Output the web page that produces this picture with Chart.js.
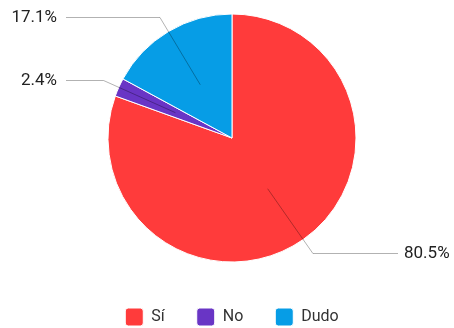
<!DOCTYPE html>
<html>
<head>
<meta charset="utf-8">
<script src="https://cdn.jsdelivr.net/npm/chart.js@4/dist/chart.umd.min.js"></script>
<style>
  html, body { margin: 0; padding: 0; background: #fff; }
</style>
</head>
<body>
<canvas id="pieChart" width="454" height="328"></canvas>
<script>
// answers and their share of responses (%)
var labels = ['Sí', 'No', 'Dudo'];
var values = [80.5, 2.4, 17.1];
var colors = ['#ff3b3b', '#6935c5', '#069de6'];

// leader lines + percentage text outside each slice
var outsideLabels = {
  id: 'outsideLabels',
  afterDatasetsDraw: function(chart) {
    var ctx = chart.ctx;
    var arcs = chart.getDatasetMeta(0).data;
    ctx.save();
    arcs.forEach(function(arc, i) {
      var p = arc.getProps(['x', 'y', 'startAngle', 'endAngle', 'outerRadius'], true);
      var mid = (p.startAngle + p.endAngle) / 2;
      var r = p.outerRadius;
      var dx = Math.cos(mid), dy = Math.sin(mid);
      var x0 = p.x + dx * r * 0.5, y0 = p.y + dy * r * 0.5;
      var x1 = p.x + dx * r * 1.135, y1 = Math.round(p.y + dy * r * 1.135) + 0.5;
      var right = dx >= 0;
      var x2 = right ? p.x + r + 42 : p.x - r - 42;

      ctx.strokeStyle = 'rgba(0,0,0,0.3)';
      ctx.lineWidth = 1;
      ctx.beginPath();
      ctx.moveTo(x0, y0);
      ctx.lineTo(x1, y1);
      ctx.lineTo(x2, y1);
      ctx.stroke();

      ctx.fillStyle = '#222';
      ctx.font = '17px Roboto';
      ctx.textBaseline = 'middle';
      ctx.textAlign = right ? 'left' : 'right';
      ctx.fillText(values[i].toFixed(1) + '%', right ? x2 + 6 : x2 - 9, y1);
    });
    ctx.restore();
  }
};

var ctx = document.getElementById('pieChart').getContext('2d');
var chart = new Chart(ctx, {
  type: 'pie',
  data: {
    labels: labels,
    datasets: [{
      data: values,
      backgroundColor: colors,
      borderColor: '#ffffff',
      borderWidth: 1
    }]
  },
  options: {
    responsive: false,
    animation: false,
    radius: 124,
    layout: {
      padding: { left: 10, top: 0, right: 0, bottom: 0 }
    },
    plugins: {
      tooltip: { enabled: false },
      legend: {
        position: 'bottom',
        maxHeight: 52,
        labels: {
          boxWidth: 18,
          boxHeight: 18,
          useBorderRadius: true,
          borderRadius: 3,
          padding: 32,
          color: '#333',
          font: { family: 'Roboto', size: 16 }
        }
      }
    }
  },
  plugins: [outsideLabels]
});
</script>
</body>
</html>
